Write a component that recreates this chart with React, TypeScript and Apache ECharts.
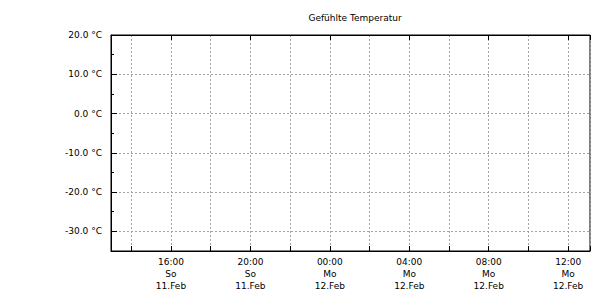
import React, { useEffect, useRef } from "react";
import * as echarts from "echarts";

// Hours since 2024-02-11 00:00
const xRange = [12.98, 37.1];
const yRange = [-35, 20];
const weekdays = ["So", "Mo"];
const dates = ["11.Feb", "12.Feb"];
const titleText = "Gefühlte Temperatur";
const unit = "°C";
// no measurements in the reference: empty series
const feltTemp: [number, number][] = [];

const FONT = "DejaVu Sans";
const GRID = "#a3a3a3";

function xLabel(v: number): string {
  if (Math.abs(v % 4) > 1e-6) return "";
  const day = Math.floor(v / 24);
  const h = Math.round(v - day * 24);
  const hh = (h < 10 ? "0" : "") + h + ":00";
  return hh + "\n" + weekdays[day] + "\n" + dates[day];
}

function yLabel(v: number): string {
  if (Math.abs(v % 10) > 1e-6) return "";
  return v.toFixed(1) + " " + unit;
}

export default function App() {
  const ref = useRef<HTMLDivElement>(null);
  useEffect(() => {
    if (!ref.current) return;
    const chart = echarts.init(ref.current, undefined, { renderer: "svg" });
    chart.setOption({
      animation: false,
      backgroundColor: "#fff",
      title: {
        text: titleText,
        left: 350,
        textAlign: "center",
        top: 8,
        textStyle: { fontFamily: FONT, fontSize: 9, fontWeight: "normal", color: "#000" },
      },
      grid: {
        left: 111,
        top: 35,
        width: 479,
        height: 216,
        show: true,
        borderColor: "#000",
        borderWidth: 1,
        backgroundColor: "transparent",
      },
      xAxis: [
        {
          type: "value",
          min: xRange[0],
          max: xRange[1],
          minInterval: 4,
          maxInterval: 4,
          splitNumber: 6,
          axisLine: { show: true, onZero: false, lineStyle: { color: "#000", width: 1 } },
          axisTick: { show: true, inside: true, length: 5, lineStyle: { color: "#000" } },
          minorTick: { show: true, splitNumber: 2, length: 5, lineStyle: { color: "#000" } },
          splitLine: { show: true, lineStyle: { color: GRID, type: [2, 2], width: 1 } },
          minorSplitLine: { show: true, lineStyle: { color: GRID, type: [2, 2], width: 1 } },
          axisLabel: {
            formatter: xLabel,
            fontFamily: FONT,
            fontSize: 9,
            color: "#000",
            lineHeight: 12,
            margin: 5,
          },
        },
        {
          type: "value",
          position: "top",
          min: xRange[0],
          max: xRange[1],
          minInterval: 4,
          maxInterval: 4,
          splitNumber: 6,
          axisLine: { show: true, onZero: false, lineStyle: { color: "#000", width: 1 } },
          axisTick: { show: true, inside: true, length: 5, lineStyle: { color: "#000" } },
          splitLine: { show: false },
          axisLabel: { show: false },
        },
      ],
      yAxis: {
        type: "value",
        min: yRange[0],
        max: yRange[1],
        minInterval: 10,
        maxInterval: 10,
        splitNumber: 6,
        axisLine: { show: true, onZero: false, lineStyle: { color: "#000", width: 1 } },
        axisTick: { show: true, inside: true, length: 6, lineStyle: { color: "#000" } },
        minorTick: { show: true, splitNumber: 2, length: 3, lineStyle: { color: "#000" } },
        splitLine: { show: true, lineStyle: { color: GRID, type: [2, 2], width: 1 } },
        axisLabel: {
          formatter: yLabel,
          fontFamily: FONT,
          fontSize: 9,
          color: "#000",
          margin: 9,
        },
      },
      series: [
        {
          name: titleText,
          type: "line",
          data: feltTemp,
          showSymbol: false,
          lineStyle: { color: "#c00", width: 1 },
        },
      ],
    });
    return () => chart.dispose();
  }, []);
  return (
    <div
      ref={ref}
      style={{ position: "fixed", left: 0, top: 0, width: 610, height: 300, background: "#fff" }}
    />
  );
}
